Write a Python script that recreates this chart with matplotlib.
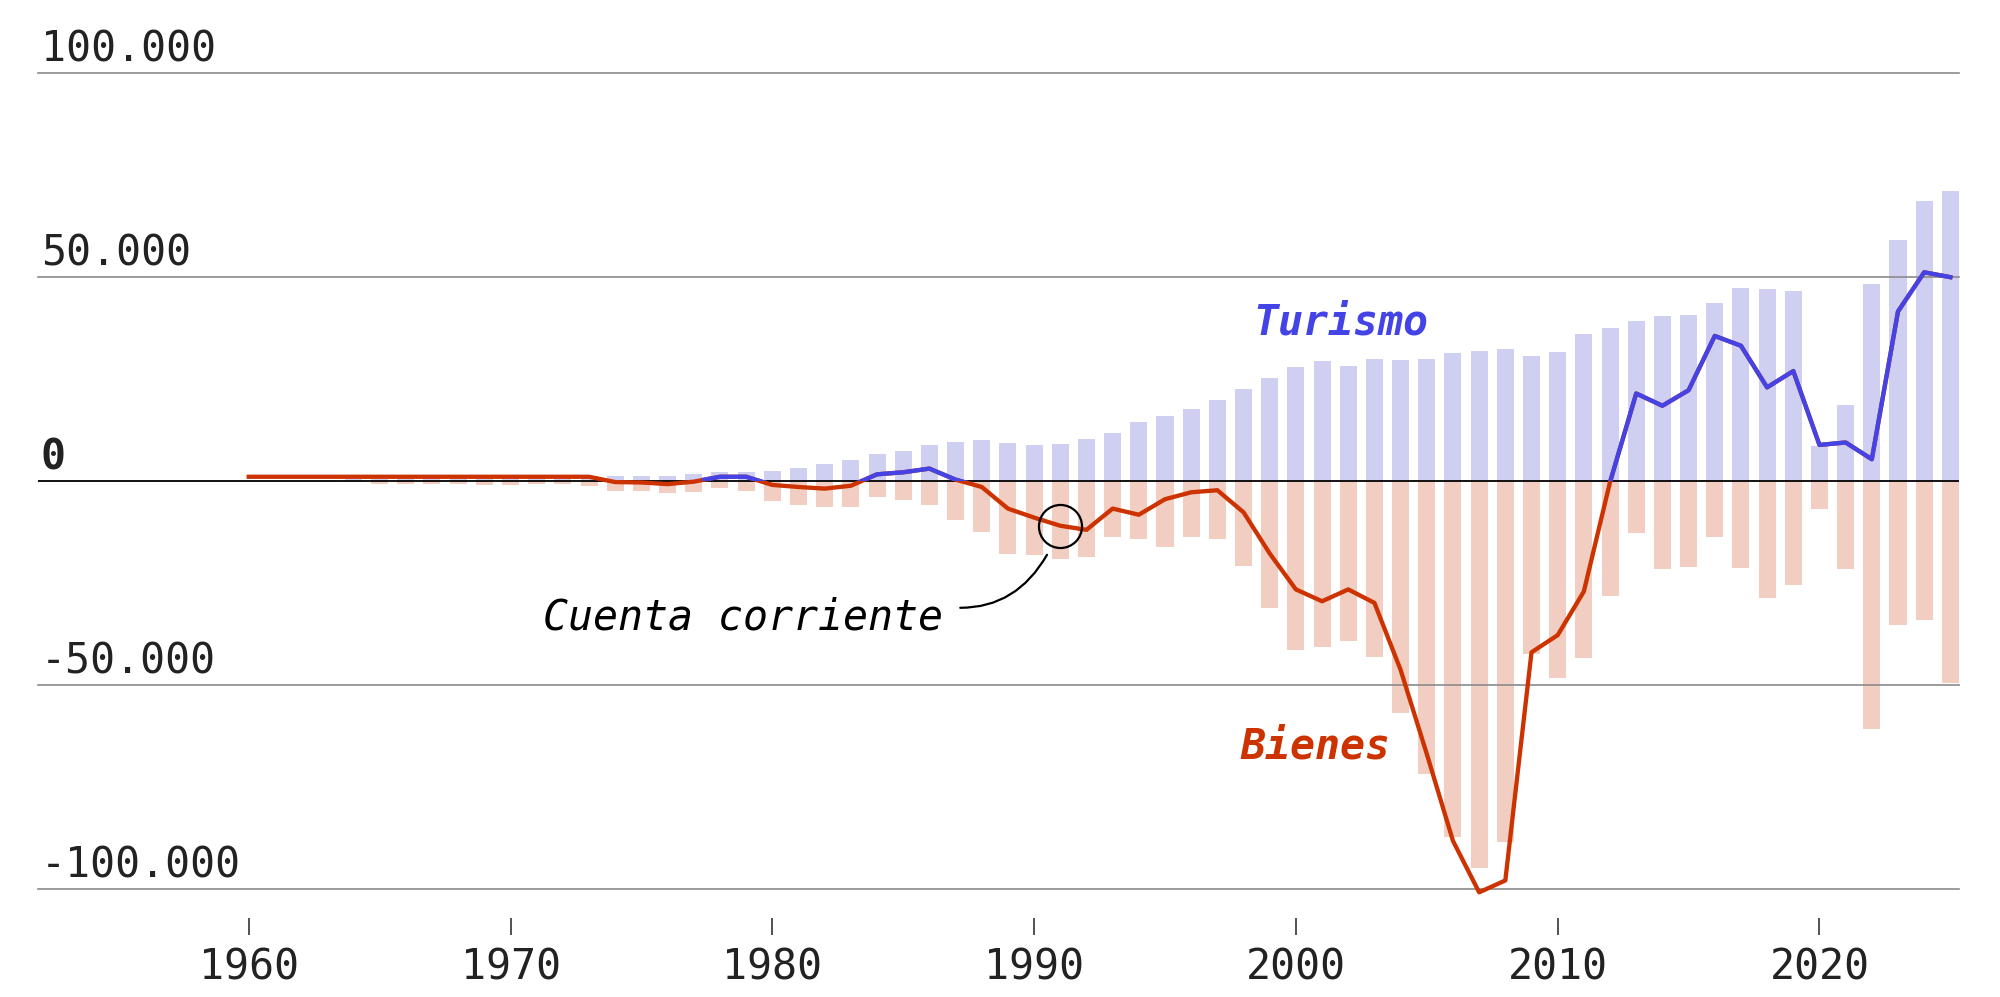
import numpy as np
import matplotlib.pyplot as plt
from matplotlib.patches import Rectangle

plt.rcParams["font.family"] = ["DejaVu Sans Mono"]

# ── Data (millones de euros) ───────────────────────────────────────────
years_bars = np.arange(1963, 2026)
turismo = [
    0.3, 0.4, 0.5, 0.6, 0.6, 0.7, 0.8, 0.9, 1.0, 1.0,            # 1963-1972
    1.1, 1.1, 1.1, 1.1, 1.6, 2.2, 2.2, 2.4, 3.2, 4.1,            # 1973-1982
    5.2, 6.7, 7.3, 8.9, 9.6, 10.0, 9.3, 8.7, 9.1, 10.2,          # 1983-1992
    11.8, 14.3, 15.9, 17.5, 19.8, 22.5, 25.3, 27.8, 29.3, 28.2,  # 1993-2002
    29.8, 29.5, 29.8, 31.3, 31.9, 32.4, 30.6, 31.6, 36.0, 37.4,  # 2003-2012
    39.2, 40.4, 40.7, 43.5, 47.3, 46.9, 46.5, 8.5, 18.5, 48.3,   # 2013-2022
    59.0, 68.6, 70.9,                                            # 2023-2025
]
bienes = [
    -0.3, -0.3, -0.65, -0.8, -0.65, -0.8, -0.9, -0.9, -0.7, -0.8,
    -1.3, -2.5, -2.6, -3.0, -2.8, -1.8, -2.4, -5.0, -5.8, -6.5,
    -6.5, -4.0, -4.8, -5.8, -9.7, -12.6, -17.8, -18.2, -19.1, -18.6,
    -13.7, -14.3, -16.2, -13.8, -14.3, -20.9, -31.2, -41.5, -40.6, -39.2,
    -43.1, -56.9, -71.8, -87.2, -94.8, -88.6, -42.3, -48.4, -43.5, -28.3,
    -12.8, -21.5, -21.0, -13.8, -21.4, -28.6, -25.4, -7.0, -21.5, -60.8,
    -35.4, -34.2, -49.5,
]
years_cc = np.arange(1960, 2026)
cuenta_corriente = [
    1.0, 1.0, 1.0, 1.0, 1.0, 1.0, 1.0, 1.0, 1.0, 1.0,              # 1960-1969
    1.0, 1.0, 1.0, 1.0, -0.3, -0.4, -0.8, -0.2, 1.0, 1.0,          # 1970-1979
    -1.0, -1.5, -1.9, -1.2, 1.6, 2.1, 3.0, 0.3, -1.5, -6.8,        # 1980-1989
    -9.0, -11.0, -12.0, -6.8, -8.3, -4.5, -2.8, -2.3, -7.7, -17.8, # 1990-1999
    -26.6, -29.5, -26.6, -29.9, -46.3, -66.9, -88.2, -100.8, -97.9, -42.0,  # 2000-2009
    -37.8, -27.1, -0.3, 21.4, 18.4, 22.2, 35.5, 33.1, 22.9, 26.9,  # 2010-2019
    8.8, 9.4, 5.3, 41.5, 51.1, 49.9,                               # 2020-2025
]
turismo = np.array(turismo) * 1000
bienes = np.array(bienes) * 1000
cuenta_corriente = np.array(cuenta_corriente) * 1000

y_ticks = [100000, 50000, 0, -50000, -100000]
x_ticks = list(range(1960, 2021, 10))
highlight_year = 1991

# ── Style ──────────────────────────────────────────────────────────────
BLUE = "#4444e6"
RED = "#cc3300"
BAR_BLUE = "#cfcff2"
BAR_RED = "#f2cdc1"
GRID = "#8a8a8a"
TXT = "#222222"

fig = plt.figure(figsize=(20, 9.97), dpi=100)
ax = fig.add_axes([0.019, 0.1083, 0.9605, 0.8188])
ax.set_xlim(1951.95, 2025.33)
ax.set_ylim(-100000, 100000)

ax.bar(years_bars, turismo, width=0.65, color=BAR_BLUE, zorder=1)
ax.bar(years_bars, bienes, width=0.65, color=BAR_RED, zorder=1)

for v in y_ticks:
    if v == 0:
        ax.axhline(0, color="black", lw=1.3, zorder=2)
    else:
        ax.axhline(v, color=GRID, lw=1.2, zorder=2, clip_on=False)

# current account: red everywhere, blue on top where positive (from 1977 on)
ax.plot(years_cc, cuenta_corriente, color=RED, lw=3.1, zorder=3, clip_on=False)
blue_line, = ax.plot(years_cc, cuenta_corriente, color=BLUE, lw=3.1, zorder=4)
blue_line.set_clip_path(Rectangle((1977.3, 0), 60, 300000, transform=ax.transData))

# ── Annotations ───────────────────────────────────────────────────────
hv = cuenta_corriente[list(years_cc).index(highlight_year)]
ax.plot([highlight_year], [hv], marker="o", ms=31, mfc="none", mec="black",
        mew=1.6, zorder=5)
ax.annotate("", xy=(highlight_year, hv), xytext=(1987.18, -31100),
            arrowprops=dict(arrowstyle="-", color="black", lw=1.6,
                            shrinkA=0, shrinkB=23,
                            connectionstyle="angle3,angleA=0,angleB=70"),
            zorder=5)
ax.text(1986.53, -36300, "Cuenta corriente", ha="right", va="baseline",
        fontsize=30, fontstyle="italic", color="black")

ax.text(2001.71, 35800, "Turismo", ha="center", va="baseline", fontsize=30,
        fontstyle="italic", fontweight="bold", color=BLUE)
ax.text(2000.76, -68100, "Bienes", ha="center", va="baseline", fontsize=30,
        fontstyle="italic", fontweight="bold", color=RED)

# y labels sit on top of the gridlines
for v in y_ticks:
    label = f"{v:,}".replace(",", ".")
    ax.annotate(label, xy=(0, v), xycoords=("axes fraction", "data"),
                xytext=(2, 8.4), textcoords="offset points", ha="left",
                va="baseline", fontsize=30, color=TXT,
                fontweight="bold" if v == 0 else "normal")

# ── Axes ──────────────────────────────────────────────────────────────
for s in ax.spines.values():
    s.set_visible(False)
ax.spines["bottom"].set_position(("outward", 21))
ax.set_xticks(x_ticks)
ax.tick_params(axis="x", length=12, width=1.1, pad=8.5, labelsize=30,
               colors=TXT)
ax.tick_params(axis="y", left=False, labelleft=False)

fig.savefig("out.png", dpi=100, facecolor="white")
